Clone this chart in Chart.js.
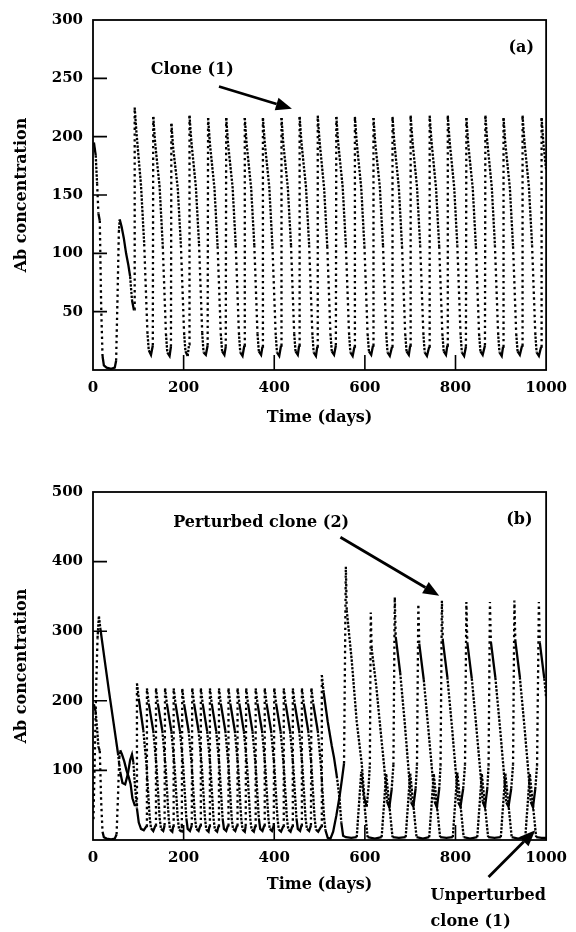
<!DOCTYPE html>
<html>
<head>
<meta charset="utf-8">
<script src="https://cdn.jsdelivr.net/npm/chart.js@4.4.1/dist/chart.umd.min.js"></script>
<style>
  html, body { margin: 0; padding: 0; background: #fff; }
  body { width: 576px; height: 932px; position: relative; overflow: hidden; }
  canvas { position: absolute; left: 0; }
  #ca { top: 0; }
  #cb { top: 440px; }
</style>
</head>
<body>
<canvas id="ca" width="576" height="440"></canvas>
<canvas id="cb" width="576" height="492"></canvas>
<script>
// ---------- tick labels ----------
const timeTicks = [0, 200, 400, 600, 800, 1000];
const abTicksA = [50, 100, 150, 200, 250, 300];
const abTicksB = [100, 200, 300, 400, 500];

// ---------- panel (a): clone 1, [time (days), Ab concentration] ----------
const clone1A = [
  [2,195],[6,184],[9,160],[12,134],[15,128],[18,55],[21,12],[24,4],[30,2],[40,1],[48,2],[51,8],[54,60],[57,118],[59,129],[63,123],[68,113],[73,100],[78,90],[82,80],[86,60],[90,52],
  [91,52],[92,225],[96,203],[106,158],[113,108],[120,33],[123,17],[128,13],
  [132,21],[133,217],[137,195],[147,157],[154,106],[161,31],[164,15],[169,12],
  [172,20],[173,211],[177,190],[187,156],[194,107],[201,32],[204,16],[209,12],
  [212,22],[213,218],[217,196],[227,157],[234,108],[241,32],[244,15],[249,13],
  [253,21],[254,216],[258,194],[268,156],[275,106],[282,31],[285,16],[290,13],
  [293,20],[294,216],[298,194],[308,157],[315,107],[322,32],[325,15],[330,12],
  [334,21],[335,216],[339,194],[349,156],[356,107],[363,31],[366,16],[371,13],
  [374,20],[375,216],[379,195],[389,157],[396,106],[403,32],[406,15],[411,12],
  [415,21],[416,216],[420,194],[430,156],[437,107],[444,31],[447,16],[452,13],
  [455,21],[456,217],[460,195],[470,157],[477,107],[484,32],[487,15],[492,12],
  [495,20],[496,218],[500,196],[510,156],[517,106],[524,31],[527,16],[532,13],
  [536,21],[537,217],[541,195],[551,157],[558,107],[565,32],[568,15],[573,12],
  [577,20],[578,217],[582,195],[592,156],[599,106],[606,31],[609,16],[614,13],
  [618,21],[619,216],[623,194],[633,157],[640,107],[647,32],[650,15],[655,12],
  [660,20],[661,217],[665,195],[675,156],[682,106],[689,31],[692,16],[697,13],
  [700,21],[701,218],[705,196],[715,157],[722,107],[729,32],[732,15],[737,12],
  [742,20],[743,218],[747,196],[757,156],[764,106],[771,31],[774,16],[779,13],
  [782,21],[783,218],[787,196],[797,157],[804,107],[811,32],[814,15],[819,12],
  [823,20],[824,216],[828,194],[838,156],[845,106],[852,31],[855,16],[860,13],
  [865,21],[866,218],[870,196],[880,157],[887,107],[894,32],[897,15],[902,12],
  [905,20],[906,216],[910,194],[920,156],[927,106],[934,31],[937,16],[942,13],
  [947,21],[948,218],[952,196],[962,157],[969,107],[976,32],[979,15],[984,12],
  [989,20],[990,216],[994,194],[1000,172]
];

// ---------- panel (b): unperturbed clone 1 ----------
const clone1B = [
  [2,195],[6,184],[9,160],[12,134],[15,128],[18,55],[21,12],[24,4],[30,2],[40,1],[48,2],[52,8],[55,60],[58,118],[60,129],[64,123],[69,113],[74,100],[79,90],[83,80],[87,60],[92,50],
  [96,50],[97,225],[101,203],[111,158],[118,108],[125,33],[128,17],[133,13],
  [138,21],[139,218],[143,196],[153,157],[160,107],[167,32],[170,15],[175,12],
  [177,20],[178,218],[182,196],[192,156],[199,106],[206,31],[209,16],[214,13],
  [218,21],[219,218],[223,196],[233,157],[240,107],[247,32],[250,15],[255,12],
  [257,20],[258,218],[262,196],[272,156],[279,106],[286,31],[289,16],[294,13],
  [298,21],[299,218],[303,196],[313,157],[320,107],[327,32],[330,15],[335,12],
  [337,20],[338,218],[342,196],[352,156],[359,106],[366,31],[369,16],[374,13],
  [378,21],[379,218],[383,196],[393,157],[400,107],[407,32],[410,15],[415,12],
  [420,20],[421,218],[425,196],[435,156],[442,106],[449,31],[452,16],[457,13],
  [460,21],[461,218],[465,196],[475,157],[482,107],[489,32],[492,15],[497,12],
  [504,20],[505,237],[509,212],[518,170],[527,135],[532,118],[538,92],[544,60],[548,25],[552,6],[558,4],[570,3],
  [582,4],[592,98],[606,4],[622,2],
  [637,4],[647,95],[661,4],[675,3],
  [690,4],[700,96],[714,4],[728,2],
  [742,4],[752,95],[766,4],[780,3],
  [794,4],[804,97],[818,4],[832,2],
  [848,4],[858,95],[872,4],[886,3],
  [900,4],[910,96],[924,4],[938,2],
  [954,4],[964,95],[978,4],[990,3],[1000,3]
];

// ---------- panel (b): perturbed clone 2 ----------
const clone2B = [
  [1,30],[4,120],[7,220],[10,290],[13,322],[16,305],[25,262],[35,215],[45,170],[55,125],[60,98],[65,82],[71,80],[77,95],[82,115],[86,123],[89,112],[93,75],[97,45],[101,25],[106,16],[112,14],
  [118,20],[119,218],[123,196],[133,157],[140,107],[147,32],[150,16],[155,13],
  [158,21],[159,218],[163,196],[173,156],[180,106],[187,31],[190,15],[195,12],
  [196,20],[197,217],[201,195],[211,157],[218,107],[225,32],[228,16],[233,13],
  [237,21],[238,218],[242,196],[252,156],[259,106],[266,31],[269,15],[274,12],
  [277,20],[278,218],[282,196],[292,157],[299,107],[306,32],[309,16],[314,13],
  [318,21],[319,218],[323,196],[333,156],[340,106],[347,31],[350,15],[355,12],
  [358,20],[359,218],[363,196],[373,157],[380,107],[387,32],[390,16],[395,13],
  [399,21],[400,218],[404,196],[414,156],[421,106],[428,31],[431,15],[436,12],
  [440,20],[441,218],[445,196],[455,157],[462,107],[469,32],[472,16],[477,13],
  [481,21],[482,218],[486,196],[496,157],[503,107],[510,32],[513,14],[518,3],[524,2],[530,12],[537,35],[544,62],[550,90],[554,110],
  [558,393],[560,330],[571,258],[582,170],[593,110],[599,60],[604,48],[608,75],[611,108],
  [613,327],[615,275],[625,222],[635,155],[643,103],[649,55],[654,47],[659,72],[663,108],
  [666,349],[668,292],[678,240],[688,168],[696,104],[702,54],[707,48],[712,74],[715,108],
  [718,339],[720,282],[730,230],[740,160],[748,102],[754,55],[759,47],[764,73],[767,107],
  [770,344],[772,286],[782,234],[792,164],[800,103],[806,54],[811,48],[817,74],[821,108],
  [824,342],[826,284],[836,232],[846,162],[854,104],[860,55],[865,47],[870,73],[873,107],
  [876,342],[878,285],[888,233],[898,163],[906,103],[912,54],[917,48],[923,74],[927,108],
  [930,344],[932,286],[942,234],[952,164],[960,104],[966,55],[971,47],[976,73],[980,107],
  [984,342],[986,284],[996,232],[1000,205]
];

// ---------- styling ----------
const INK = '#000';
const SERIF = '"DejaVu Serif", "Liberation Serif", serif';
const toXY = pairs => pairs.map(([x, y]) => ({x, y}));

// dotted look: fast (steep) parts sparse dots, slow parts dense
function dashFor(ctx) {
  const dx = Math.abs(ctx.p1.x - ctx.p0.x);
  const dy = Math.abs(ctx.p1.y - ctx.p0.y);
  const s = dy / Math.max(dx, 0.6);
  if (s > 22) return [2.4, 3.4];
  if (s > 8) return [2.4, 1.4];
  return [];
}

function lineDataset(pairs) {
  return {
    data: toXY(pairs),
    borderColor: INK,
    borderWidth: 2.3,
    pointRadius: 0,
    tension: 0,
    fill: false,
    showLine: true,
    segment: { borderDash: dashFor }
  };
}

const frameTicks = {
  id: 'frameTicks',
  afterDatasetsDraw(chart) {
    const {ctx, chartArea: a, scales: {x, y}} = chart;
    ctx.save();
    ctx.strokeStyle = INK;
    ctx.lineWidth = 1.8;
    ctx.strokeRect(a.left, a.top, a.right - a.left, a.bottom - a.top);
    ctx.lineWidth = 1.6;
    ctx.beginPath();
    y.ticks.forEach(t => {
      if (t.value > y.min && t.value < y.max) {
        const py = y.getPixelForValue(t.value);
        ctx.moveTo(a.left, py); ctx.lineTo(a.left + 14, py);
      }
    });
    x.ticks.forEach(t => {
      if (t.value > x.min && t.value < x.max) {
        const px = x.getPixelForValue(t.value);
        ctx.moveTo(px, a.bottom); ctx.lineTo(px, a.bottom - 15);
      }
    });
    ctx.stroke();
    ctx.restore();
  }
};

const notes = {
  id: 'notes',
  afterDraw(chart, args, opts) {
    const {ctx, scales: {x, y}} = chart;
    ctx.save();
    ctx.fillStyle = INK;
    ctx.strokeStyle = INK;
    ctx.font = 'bold 16px ' + SERIF;
    ctx.textBaseline = 'middle';
    (opts.texts || []).forEach(n => {
      ctx.textAlign = n.align || 'center';
      ctx.fillText(n.text, x.getPixelForValue(n.t), y.getPixelForValue(n.v));
    });
    (opts.arrows || []).forEach(ar => {
      const x0 = x.getPixelForValue(ar.from[0]), y0 = y.getPixelForValue(ar.from[1]);
      const x1 = x.getPixelForValue(ar.to[0]), y1 = y.getPixelForValue(ar.to[1]);
      const ang = Math.atan2(y1 - y0, x1 - x0);
      const hl = 16, hw = 6.5;
      const bx = x1 - hl * Math.cos(ang), by = y1 - hl * Math.sin(ang);
      ctx.lineWidth = 2.8;
      ctx.beginPath(); ctx.moveTo(x0, y0); ctx.lineTo(bx, by); ctx.stroke();
      ctx.beginPath();
      ctx.moveTo(x1, y1);
      ctx.lineTo(bx + hw * Math.sin(ang), by - hw * Math.cos(ang));
      ctx.lineTo(bx - hw * Math.sin(ang), by + hw * Math.cos(ang));
      ctx.closePath(); ctx.fill();
    });
    ctx.restore();
  }
};

function makeOptions(yMax, yStep, xAxisHeight, titlePadBottom, padTop, padRight, noteCfg) {
  const tickFont = { family: SERIF, size: 15, weight: 'bold' };
  const titleFont = { family: SERIF, size: 16, weight: 'bold' };
  return {
    responsive: false,
    animation: false,
    devicePixelRatio: 1,
    layout: { padding: { top: padTop, right: padRight, left: 0, bottom: 0 } },
    plugins: { legend: { display: false }, tooltip: { enabled: false }, notes: noteCfg },
    scales: {
      x: {
        type: 'linear', min: 0, max: 1000,
        afterBuildTicks: s => { s.ticks = timeTicks.map(v => ({value: v})); },
        ticks: { font: tickFont, color: INK, padding: 9, maxRotation: 0, autoSkip: false,
                 callback: v => String(v) },
        grid: { display: false, drawTicks: false },
        border: { display: false },
        title: { display: true, text: 'Time (days)', color: INK, font: titleFont, padding: { top: 0, bottom: titlePadBottom } },
        afterFit: s => { s.height = xAxisHeight; }
      },
      y: {
        type: 'linear', min: 0, max: yMax,
        afterBuildTicks: s => { s.ticks = [0].concat(yStep).map(v => ({value: v})); },
        ticks: { font: tickFont, color: INK, padding: 10, autoSkip: false,
                 callback: v => v === 0 ? '' : String(v) },
        grid: { display: false, drawTicks: false },
        border: { display: false },
        title: { display: true, text: 'Ab concentration', color: INK, font: titleFont, padding: { top: 12, bottom: 0 } },
        afterFit: s => { s.width = 93; }
      }
    }
  };
}

new Chart(document.getElementById('ca'), {
  type: 'line',
  data: { datasets: [lineDataset(clone1A)] },
  options: makeOptions(300, abTicksA, 70, 13, 20, 27, {
    texts: [
      { text: 'Clone (1)', t: 219, v: 257 },
      { text: '(a)', t: 945, v: 276 }
    ],
    arrows: [ { from: [278, 243], to: [439, 224] } ]
  }),
  plugins: [frameTicks, notes]
});

new Chart(document.getElementById('cb'), {
  type: 'line',
  data: { datasets: [lineDataset(clone2B), lineDataset(clone1B)] },
  options: makeOptions(500, abTicksB, 92, 38, 52, 25, {
    texts: [
      { text: 'Perturbed clone (2)', t: 371, v: 455 },
      { text: '(b)', t: 941, v: 460 },
      { text: 'Unperturbed', t: 745, v: -80, align: 'left' },
      { text: 'clone (1)', t: 745, v: -118, align: 'left' }
    ],
    arrows: [
      { from: [546, 435], to: [764, 351] },
      { from: [873, -53], to: [976, 14] }
    ]
  }),
  plugins: [frameTicks, notes]
});
</script>
</body>
</html>
